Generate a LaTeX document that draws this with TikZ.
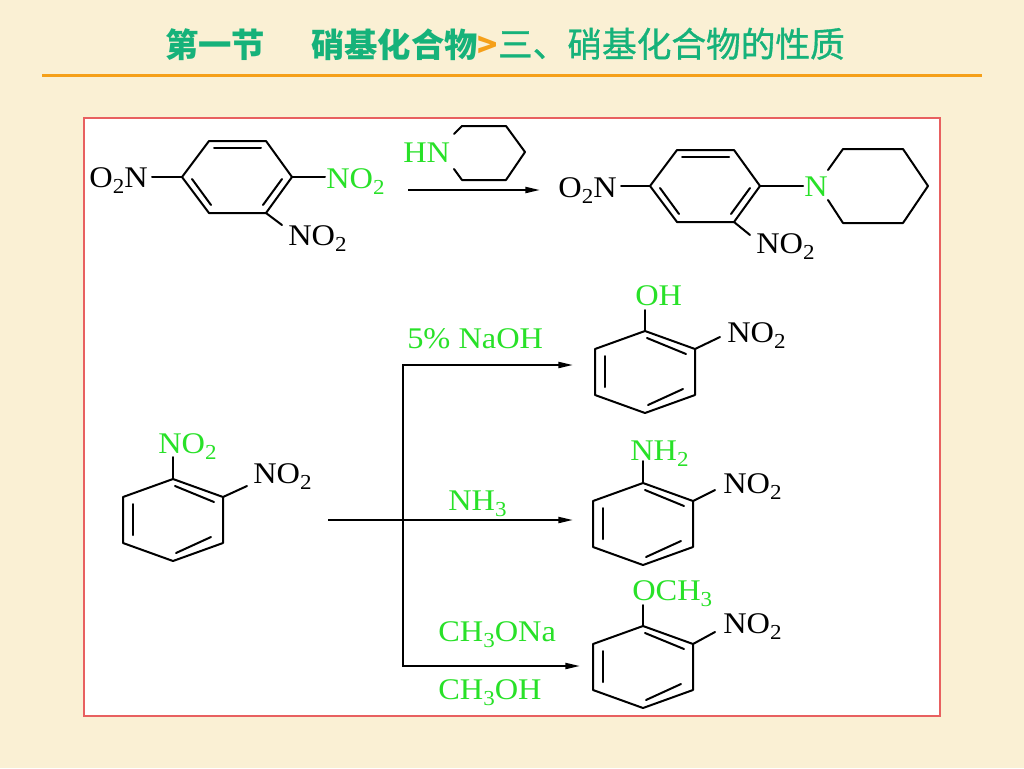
\documentclass[tikz,border=0pt]{standalone}
\usepackage{fontspec}
\setmainfont{Liberation Serif}[FakeStretch=1.08]
\newfontfamily\cjk{Noto Sans CJK SC}
\newfontfamily\cjkmid{Noto Sans CJK SC}[FakeBold=1]
\usetikzlibrary{arrows.meta,positioning}
\definecolor{parch}{RGB}{250,240,212}
\definecolor{titlegreen}{RGB}{22,178,122}
\definecolor{rulemark}{RGB}{245,160,25}
\definecolor{chemgreen}{RGB}{40,225,40}
\definecolor{boxred}{RGB}{232,96,96}
\newcommand\chsub[1]{\smash{\raisebox{-4.5pt}{\fontsize{16}{16}\selectfont #1}}}
\begin{document}
\begin{tikzpicture}[x=0.75pt,y=-0.75pt,
  bond/.style={line width=1.5pt,line cap=round,line join=round},
  rxn/.style={line width=1.5pt},
  rxnarrow/.style={rxn,-{Triangle[length=11pt,width=4.5pt]}},
  lbl/.style={inner sep=0pt,anchor=base west,font=\fontsize{22.5}{24}\selectfont},
  reag/.style={lbl,text=chemgreen},
  ttl/.style={inner sep=0pt,text=titlegreen,font=\cjk\fontsize{25}{28}\selectfont}]
 \fill[parch] (0,0) rectangle (1024,768);
 \useasboundingbox (0,0) rectangle (1024,768);
 % title
 \node[ttl,font=\cjk\bfseries\fontsize{25}{28}\selectfont,anchor=base west] (sect) at (165,57) {第一节};
 \node[ttl,base right=34pt of sect] (topic) {{\bfseries 硝基化合物}{\color{rulemark}\bfseries >}{\cjkmid\fontsize{26}{28}\selectfont 三、硝基化合物的性质}};
 \draw[rulemark,line width=2.25pt] (42,75) -- (982,75);
 \draw[boxred,line width=1.2pt,fill=white] (84,118) rectangle (940,716);
 % 2,4-dinitro substitution
 \begin{scope}[shift={(237,177)}]
  \draw[bond] (-55,0) -- (-28,-36) -- (29,-36) -- (55,0) -- (29,36) -- (-28,36) -- cycle;
  \draw[bond] (-23,-29) -- (24,-29);
  \draw[bond] (-45,2) -- (-26,28);
  \draw[bond] (45,2) -- (26,28);
  \draw[bond] (-55,0) -- (-85,0);
  \draw[bond] (55,0) -- (88,0);
  \draw[bond] (29,36) -- (45,48);
 \end{scope}
 \node[lbl,anchor=base east] (ono1) at (148,187) {O\chsub{2}N};
 \node[reag] (lvno) at (326,188) {NO\chsub{2}};
 \node[lbl] (rno1) at (288,245) {NO\chsub{2}};
 \node[reag] (hn) at (403,162) {HN};
 \draw[bond] (454,134) -- (462,126) -- (506,126) -- (525,152) -- (506,180) -- (462,180) -- (454,169);
 \coordinate (a1s) at (408,190);
 \coordinate (a1e) at (540,190);
 \draw[rxnarrow] (a1s) -- (a1e);
 \begin{scope}[shift={(705,186)}]
  \draw[bond] (-55,0) -- (-28,-36) -- (29,-36) -- (55,0) -- (29,36) -- (-28,36) -- cycle;
  \draw[bond] (-23,-29) -- (24,-29);
  \draw[bond] (-45,2) -- (-26,28);
  \draw[bond] (45,2) -- (26,28);
  \draw[bond] (-55,0) -- (-84,0);
  \draw[bond] (55,0) -- (98,0);
  \draw[bond] (29,36) -- (45,49);
 \end{scope}
 \node[lbl,anchor=base east] (ono2) at (617,197) {O\chsub{2}N};
 \node[reag] (pipn) at (804,196) {N};
 \node[lbl] (rno2) at (756,253) {NO\chsub{2}};
 \draw[bond] (828,170) -- (843,149) -- (903,149) -- (928,186) -- (903,223) -- (843,223) -- (828,200);
 % o-dinitrobenzene
 \begin{scope}[shift={(173,520)}]
  \draw[bond] (0,-41) -- (50,-23) -- (50,23) -- (0,41) -- (-50,23) -- (-50,-23) -- cycle;
  \draw[bond] (2,-34) -- (41,-18);
  \draw[bond] (-40,-16) -- (-40,15);
  \draw[bond] (3,33) -- (38,17);
  \draw[bond] (0,-41) -- (0,-63);
  \draw[bond] (50,-23) -- (74,-34);
 \end{scope}
 \node[reag] (tno) at (158,453) {NO\chsub{2}};
 \node[lbl] (sno) at (253,483) {NO\chsub{2}};
 % branches
 \coordinate (src) at (328,520);
 \coordinate (tomid) at (573,520);
 \coordinate (brtop) at (403,365);
 \coordinate (brbot) at (403,666);
 \coordinate (totop) at (573,365);
 \coordinate (tobot) at (580,666);
 \draw[rxnarrow] (src) -- (tomid);
 \draw[rxn,{Triangle[length=11pt,width=4.5pt]}-{Triangle[length=11pt,width=4.5pt]}] (totop) -- (brtop) -- (brbot) -- (tobot);
 \node[reag] (naoh) at (407,348) {5\% NaOH};
 \node[reag] (nh3) at (448,510) {NH\chsub{3}};
 \node[reag] (meona) at (438,641) {CH\chsub{3}ONa};
 \node[reag] (meoh) at (438,699) {CH\chsub{3}OH};
 % products
 \begin{scope}[shift={(645,372)}]
  \draw[bond] (0,-41) -- (50,-23) -- (50,23) -- (0,41) -- (-50,23) -- (-50,-23) -- cycle;
  \draw[bond] (2,-34) -- (41,-18);
  \draw[bond] (-40,-16) -- (-40,15);
  \draw[bond] (3,33) -- (38,17);
  \draw[bond] (0,-41) -- (0,-62);
  \draw[bond] (50,-23) -- (75,-35);
 \end{scope}
 \node[reag] (oh) at (635,305) {OH};
 \node[lbl] (pno1) at (727,342) {NO\chsub{2}};
 \begin{scope}[shift={(643,524)}]
  \draw[bond] (0,-41) -- (50,-23) -- (50,23) -- (0,41) -- (-50,23) -- (-50,-23) -- cycle;
  \draw[bond] (2,-34) -- (41,-18);
  \draw[bond] (-40,-16) -- (-40,15);
  \draw[bond] (3,33) -- (38,17);
  \draw[bond] (0,-41) -- (0,-63);
  \draw[bond] (50,-23) -- (72,-34);
 \end{scope}
 \node[reag] (nh2) at (630,460) {NH\chsub{2}};
 \node[lbl] (pno2) at (723,493) {NO\chsub{2}};
 \begin{scope}[shift={(643,667)}]
  \draw[bond] (0,-41) -- (50,-23) -- (50,23) -- (0,41) -- (-50,23) -- (-50,-23) -- cycle;
  \draw[bond] (2,-34) -- (41,-18);
  \draw[bond] (-40,-16) -- (-40,15);
  \draw[bond] (3,33) -- (38,17);
  \draw[bond] (0,-41) -- (0,-62);
  \draw[bond] (50,-23) -- (72,-35);
 \end{scope}
 \node[reag] (och3) at (632,600) {OCH\chsub{3}};
 \node[lbl] (pno3) at (723,633) {NO\chsub{2}};
\end{tikzpicture}
\end{document}
